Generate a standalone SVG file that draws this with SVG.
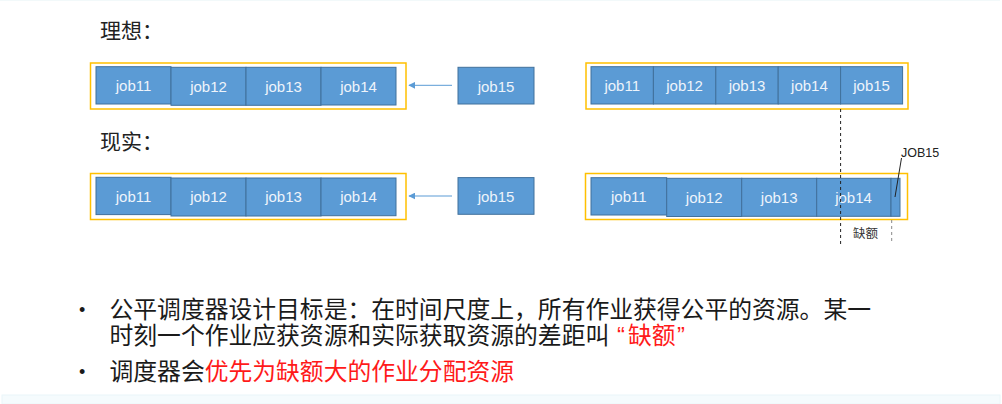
<svg xmlns="http://www.w3.org/2000/svg" width="1002" height="404" viewBox="0 0 1002 404">
<defs>
<style>
.job{fill:#5b9bd5;stroke:#41719c;stroke-width:1}
.jt{font-family:"Liberation Sans",Arial,sans-serif;font-size:15px;fill:#eef4fb;text-anchor:middle}
.frame{fill:none;stroke:#ffc000;stroke-width:1.5}
.cjk{font-family:"Noto Sans CJK SC","Microsoft YaHei",sans-serif}
.mix{font-family:"Liberation Sans","Noto Sans CJK SC",sans-serif}
.title{font-size:21px;fill:#222}
.bul{font-size:23.8px;fill:#1a1a1a}
.dot{font-family:"Liberation Sans",Arial,sans-serif;font-size:18px;fill:#1a1a1a}
.red{fill:#ff1a1a}
.arrow{stroke:#5b9bd5;stroke-width:1;fill:none;marker-end:url(#ah)}
.dash{stroke:#222;stroke-width:1;stroke-dasharray:3,3;fill:none}
</style>
<marker id="ah" viewBox="0 0 10 10" refX="9" refY="5" markerWidth="7" markerHeight="7" orient="auto" markerUnits="userSpaceOnUse">
<path d="M0,0 L10,5 L0,10 z" fill="#5b9bd5"/>
</marker>
</defs>
<rect x="0" y="0" width="1002" height="404" fill="#ffffff"/>
<line x1="0" y1="0.5" x2="1000" y2="0.5" stroke="#f2f9fa" stroke-width="1"/>
<rect x="2" y="395" width="998" height="9" fill="#f5fbfd" stroke="#eaf6f9" stroke-width="1"/>

<g id="title-ideal"><text class="cjk title" x="100" y="38">理想：</text></g>
<g id="title-real"><text class="cjk title" x="100" y="149">现实：</text></g>

<g id="ideal-left">
<rect class="frame" x="90.5" y="63" width="315.5" height="46"/>
<g id="il-job11"><rect class="job" x="96" y="66.7" width="75" height="37.3"/><text class="jt" x="133.5" y="91">job11</text></g>
<g id="il-job12"><rect class="job" x="171" y="67.3" width="75" height="38"/><text class="jt" x="208.5" y="91.5">job12</text></g>
<g id="il-job13"><rect class="job" x="246" y="67.3" width="75" height="38"/><text class="jt" x="283.5" y="91.5">job13</text></g>
<g id="il-job14"><rect class="job" x="321" y="67.3" width="75" height="37.7"/><text class="jt" x="358.5" y="91.5">job14</text></g>
</g>
<g id="il-job15"><rect class="job" x="458" y="67.3" width="76" height="36.7"/><text class="jt" x="496" y="91.5">job15</text></g>

<g id="real-left">
<rect class="frame" x="90.5" y="173.5" width="315.5" height="46"/>
<g id="rl-job11"><rect class="job" x="96" y="177.3" width="75" height="37.3"/><text class="jt" x="133.5" y="201.5">job11</text></g>
<g id="rl-job12"><rect class="job" x="171" y="178" width="75" height="38"/><text class="jt" x="208.5" y="202">job12</text></g>
<g id="rl-job13"><rect class="job" x="246" y="178" width="75" height="38"/><text class="jt" x="283.5" y="202">job13</text></g>
<g id="rl-job14"><rect class="job" x="321" y="178" width="75" height="37.7"/><text class="jt" x="358.5" y="202">job14</text></g>
</g>
<g id="rl-job15"><rect class="job" x="458" y="177.6" width="76" height="36.7"/><text class="jt" x="496" y="201.5">job15</text></g>

<g id="ideal-right">
<rect class="frame" x="586" y="63" width="322" height="46"/>
<g id="ir-job11"><rect class="job" x="591" y="66.7" width="62.4" height="37.3"/><text class="jt" x="622.2" y="91">job11</text></g>
<g id="ir-job12"><rect class="job" x="653.4" y="66.7" width="62.4" height="37.3"/><text class="jt" x="684.6" y="91">job12</text></g>
<g id="ir-job13"><rect class="job" x="715.8" y="66.7" width="62.4" height="37.3"/><text class="jt" x="747" y="91">job13</text></g>
<g id="ir-job14"><rect class="job" x="778.2" y="66.7" width="62.4" height="37.3"/><text class="jt" x="809.4" y="91">job14</text></g>
<g id="ir-job15"><rect class="job" x="840.6" y="66.7" width="62" height="37.3"/><text class="jt" x="871.6" y="91">job15</text></g>
</g>

<g id="real-right">
<rect class="frame" x="585.5" y="173.5" width="322" height="46"/>
<g id="rr-job11"><rect class="job" x="591" y="177.7" width="75.7" height="37.3"/><text class="jt" x="628.8" y="201.5">job11</text></g>
<g id="rr-job12"><rect class="job" x="666.7" y="178.3" width="75" height="38.2"/><text class="jt" x="704.2" y="202.5">job12</text></g>
<g id="rr-job13"><rect class="job" x="741.7" y="178.3" width="75" height="38"/><text class="jt" x="779.2" y="202.5">job13</text></g>
<g id="rr-job14"><rect class="job" x="816.7" y="178.3" width="74.3" height="38"/><text class="jt" x="853.5" y="202.5">job14</text></g>
<g id="rr-job15"><rect class="job" x="891" y="178.3" width="9" height="38"/></g>
</g>

<g id="connectors">
<line class="arrow" x1="452" y1="85.3" x2="409" y2="85.3"/>
<line class="arrow" x1="452" y1="196" x2="409" y2="196"/>
<line class="dash" x1="840.6" y1="109" x2="840.6" y2="244"/>
<line class="dash" x1="891.7" y1="220" x2="891.7" y2="244" style="stroke:#888"/>
<line x1="901.5" y1="158" x2="895" y2="197" stroke="#222" stroke-width="1"/>
</g>

<g id="label-job15"><text x="901" y="157" font-family="Liberation Sans,Arial,sans-serif" font-size="12.5" fill="#222">JOB15</text></g>
<g id="label-gap"><text class="cjk" x="853" y="238" font-size="12.5" fill="#333">缺额</text></g>

<g id="bullets">
<text class="dot" x="79" y="316">•</text>
<text class="mix bul" x="109.5" y="317.5">公平调度器设计目标是：在时间尺度上，所有作业获得公平的资源。某一</text>
<text class="mix bul" x="109.5" y="344">时刻一个作业应获资源和实际获取资源的差距叫<tspan class="red" x="617">“</tspan><tspan class="red" x="628">缺额</tspan><tspan class="red" x="677">”</tspan></text>
<text class="dot" x="79" y="377.5">•</text>
<text class="mix bul" x="109.5" y="379.5">调度器会<tspan class="red">优先为缺额大的作业分配资源</tspan></text>
</g>
</svg>
